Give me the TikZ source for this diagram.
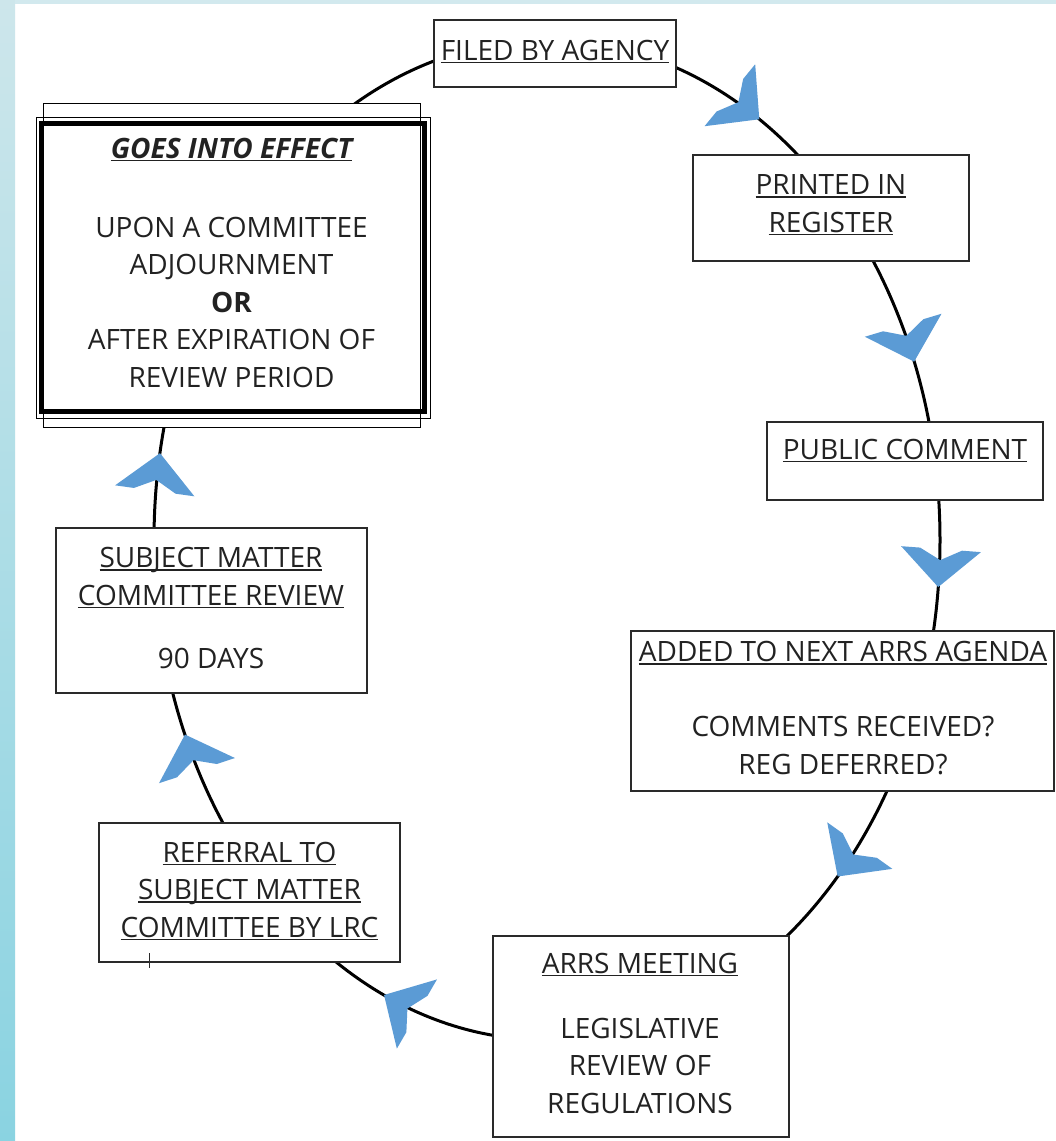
\documentclass[tikz,border=0pt]{standalone}
\usepackage{fontspec}
\setmainfont{Open Sans}
\definecolor{arrowblue}{HTML}{5B9BD5}
\definecolor{stripTop}{HTML}{CDE6EB}
\definecolor{stripBot}{HTML}{8AD3E1}
\definecolor{topstrip}{HTML}{D2E9EE}
\definecolor{boxline}{HTML}{2A2A2A}
\definecolor{textc}{HTML}{222222}
\newsavebox\ulinbox
\newcommand{\ulin}[1]{\leavevmode\sbox\ulinbox{#1}\rlap{\rule[-3pt]{\wd\ulinbox}{1.2pt}}\usebox\ulinbox}
\tikzset{
  box/.style={draw=boxline, line width=1.3pt, fill=white, inner sep=0pt},
  frame/.style={draw=black, line width=1pt, inner sep=0pt},
  txt/.style={align=center, inner sep=0pt, text=textc, font=\fontsize{28}{37.5}\selectfont},
  loopline/.style={line width=3pt, draw=black},
  chev/.style={fill=arrowblue, draw=none},
}
\begin{document}
\begin{tikzpicture}[x=1pt,y=-1pt]
\useasboundingbox (0,0) rectangle (1056,1141);
% background
\fill[white] (0,0) rectangle (1056,1141);
\shade[top color=stripTop, bottom color=stripBot] (0,0) rectangle (15,1141);
\fill[topstrip] (15,0) rectangle (1056,4);
% cycle line
\draw[loopline] (547,540) ellipse [x radius=393, y radius=500];
% boxes
\node[box, minimum width=242, minimum height=67] (filed) at (555,53.5) {};
\node[box, minimum width=276, minimum height=106] (printed) at (831,208) {};
\node[box, minimum width=276, minimum height=78] (public) at (905,461) {};
\node[box, minimum width=423, minimum height=160] (added) at (842.5,711) {};
\node[box, minimum width=296, minimum height=201] (arrs) at (641,1036.5) {};
\node[box, minimum width=301, minimum height=139] (referral) at (249.5,892.5) {};
\node[box, minimum width=311, minimum height=165] (subject) at (211.5,610.5) {};
% goes into effect frames
\node[frame, fill=white, minimum width=377, minimum height=324] (goesA) at (231.5,265) {};
\node[frame, minimum width=394, minimum height=301] (goesB) at (233,267.5) {};
\node[draw=black, line width=5pt, inner sep=0pt, minimum width=382.5, minimum height=287.5] (goesC) at (232.75,267.25) {};
% cursor mark
\coordinate (cur1) at (149,953);
\coordinate (cur2) at (149,968);
\draw[line width=1pt, boxline] (cur1) -- (cur2);
% texts (base anchor = baseline of the last line)
\node[txt, anchor=base] (filedT) at (555,60) {\ulin{FILED BY AGENCY}};
\node[txt, anchor=base] (printT) at (831,232) {\ulin{PRINTED IN}\\\ulin{REGISTER}};
\node[txt, anchor=base] (publicT) at (905,459) {\ulin{PUBLIC COMMENT}};
\node[txt, anchor=base] (addedT) at (843,774) {\ulin{ADDED TO NEXT ARRS AGENDA}\\[37.5pt]COMMENTS RECEIVED?\\REG DEFERRED?};
\node[txt, anchor=base] (arrsT) at (640,1113) {\ulin{ARRS MEETING}\\[27.5pt]LEGISLATIVE\\REVIEW OF\\REGULATIONS};
\node[txt, anchor=base] (referT) at (249.5,937) {\ulin{REFERRAL TO}\\\ulin{SUBJECT MATTER}\\\ulin{COMMITTEE BY LRC}};
\node[txt, anchor=base] (subjT) at (211,668) {\ulin{SUBJECT MATTER}\\\ulin{COMMITTEE REVIEW}\\[25.5pt]90 DAYS};
\node[txt, anchor=base] (goesT) at (231.5,387) {\ulin{\bfseries\itshape GOES INTO EFFECT}\\[41.5pt]UPON A COMMITTEE\\ADJOURNMENT\\\textbf{OR}\\AFTER EXPIRATION OF\\REVIEW PERIOD};
% chevron arrowheads along the cycle
\foreach \t in {57.3,20.9,-5.4,-42.3,-114.5,-157.1,170} {
  \pgfmathsetmacro\X{547+393*cos(\t)}
  \pgfmathsetmacro\Y{540-500*sin(\t)}
  \pgfmathsetmacro\vx{0.393*sin(\t)}
  \pgfmathsetmacro\vy{0.5*cos(\t)}
  \pgfmathsetmacro\L{sqrt(\vx*\vx+\vy*\vy)}
  \pgfmathsetmacro\dx{\vx/\L}
  \pgfmathsetmacro\dy{\vy/\L}
  \fill[chev] (\X,\Y)
    -- ({\X-38*\dx-40*\dy},{\Y-38*\dy+40*\dx})
    -- ({\X-38*\dx-21*\dy},{\Y-38*\dy+21*\dx})
    -- ({\X-27*\dx},{\Y-27*\dy})
    -- ({\X-38*\dx+21*\dy},{\Y-38*\dy-21*\dx})
    -- ({\X-38*\dx+40*\dy},{\Y-38*\dy-40*\dx})
    -- cycle;
}
\end{tikzpicture}
\end{document}
